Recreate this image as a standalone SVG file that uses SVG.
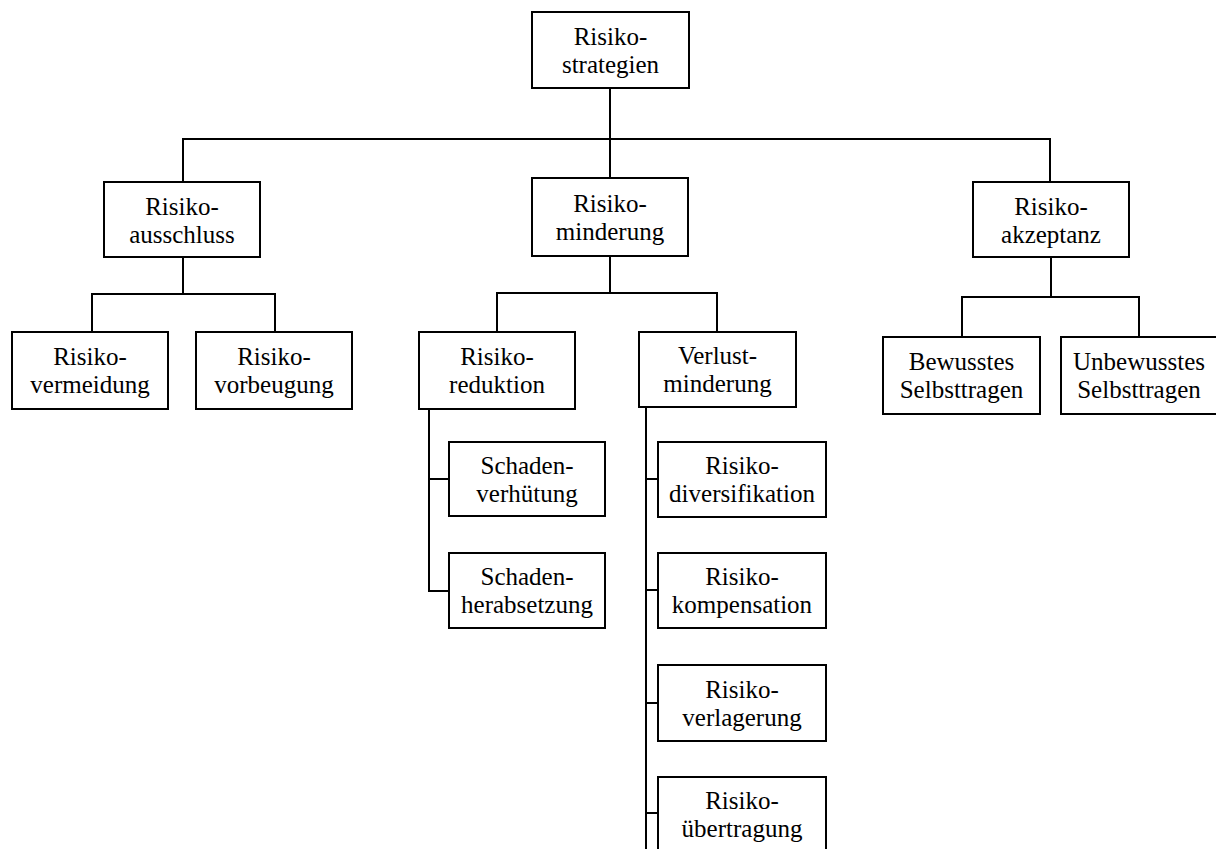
<svg xmlns="http://www.w3.org/2000/svg" width="1216" height="849" viewBox="0 0 1216 849">
<style>
.box{fill:#fff;stroke:#000;stroke-width:2}
.t{font-family:"Liberation Serif","Times New Roman",serif;font-size:25px;fill:#000;text-anchor:middle}
.c{fill:none;stroke:#000;stroke-width:2}
</style>
<rect width="1216" height="849" fill="#fff"/>
<g id="connectors">
<path class="c" d="M610 88V178M183 182V139H1050V182"/>
<path class="c" d="M183 257V294M92 332V294H275V332"/>
<path class="c" d="M610 256V293M497 332V293H717V332"/>
<path class="c" d="M1051 257V297M962 337V297H1139V337"/>
<path class="c" d="M429 409V591H449M429 479H449"/>
<path class="c" d="M646 407V849M646 479H658M646 590H658M646 703H658M646 813H658"/>
</g>
<g id="n-strategien"><rect class="box" x="532" y="12" width="157" height="76"/><text class="t" x="610.5" y="45">Risiko-</text><text class="t" x="610.5" y="73">strategien</text></g>
<g id="n-ausschluss"><rect class="box" x="104" y="182" width="156" height="75"/><text class="t" x="182" y="215">Risiko-</text><text class="t" x="182" y="243">ausschluss</text></g>
<g id="n-minderung"><rect class="box" x="532" y="178" width="156" height="78"/><text class="t" x="610" y="212">Risiko-</text><text class="t" x="610" y="240">minderung</text></g>
<g id="n-akzeptanz"><rect class="box" x="973" y="182" width="156" height="75"/><text class="t" x="1051" y="215">Risiko-</text><text class="t" x="1051" y="243">akzeptanz</text></g>
<g id="n-vermeidung"><rect class="box" x="12" y="332" width="156" height="77"/><text class="t" x="90" y="365">Risiko-</text><text class="t" x="90" y="393">vermeidung</text></g>
<g id="n-vorbeugung"><rect class="box" x="196" y="332" width="156" height="77"/><text class="t" x="274" y="365">Risiko-</text><text class="t" x="274" y="393">vorbeugung</text></g>
<g id="n-reduktion"><rect class="box" x="419" y="332" width="156" height="77"/><text class="t" x="497" y="365">Risiko-</text><text class="t" x="497" y="393">reduktion</text></g>
<g id="n-verlustminderung"><rect class="box" x="639" y="332" width="157" height="75"/><text class="t" x="717.5" y="364">Verlust-</text><text class="t" x="717.5" y="392">minderung</text></g>
<g id="n-bewusst"><rect class="box" x="883" y="337" width="157" height="77"/><text class="t" x="961.5" y="370">Bewusstes</text><text class="t" x="961.5" y="398">Selbsttragen</text></g>
<g id="n-unbewusst"><rect class="box" x="1061" y="337" width="156" height="77"/><text class="t" x="1139" y="370">Unbewusstes</text><text class="t" x="1139" y="398">Selbsttragen</text></g>
<g id="n-verhuetung"><rect class="box" x="449" y="442" width="156" height="74"/><text class="t" x="527" y="473.5">Schaden-</text><text class="t" x="527" y="501.5">verhütung</text></g>
<g id="n-herabsetzung"><rect class="box" x="449" y="553" width="156" height="75"/><text class="t" x="527" y="585">Schaden-</text><text class="t" x="527" y="613">herabsetzung</text></g>
<g id="n-diversifikation"><rect class="box" x="658" y="442" width="168" height="75"/><text class="t" x="742" y="474">Risiko-</text><text class="t" x="742" y="502">diversifikation</text></g>
<g id="n-kompensation"><rect class="box" x="658" y="553" width="168" height="75"/><text class="t" x="742" y="585">Risiko-</text><text class="t" x="742" y="613">kompensation</text></g>
<g id="n-verlagerung"><rect class="box" x="658" y="665" width="168" height="76"/><text class="t" x="742" y="697.5">Risiko-</text><text class="t" x="742" y="725.5">verlagerung</text></g>
<g id="n-uebertragung"><rect class="box" x="658" y="777" width="168" height="76"/><text class="t" x="742" y="809">Risiko-</text><text class="t" x="742" y="837">übertragung</text></g>
</svg>
